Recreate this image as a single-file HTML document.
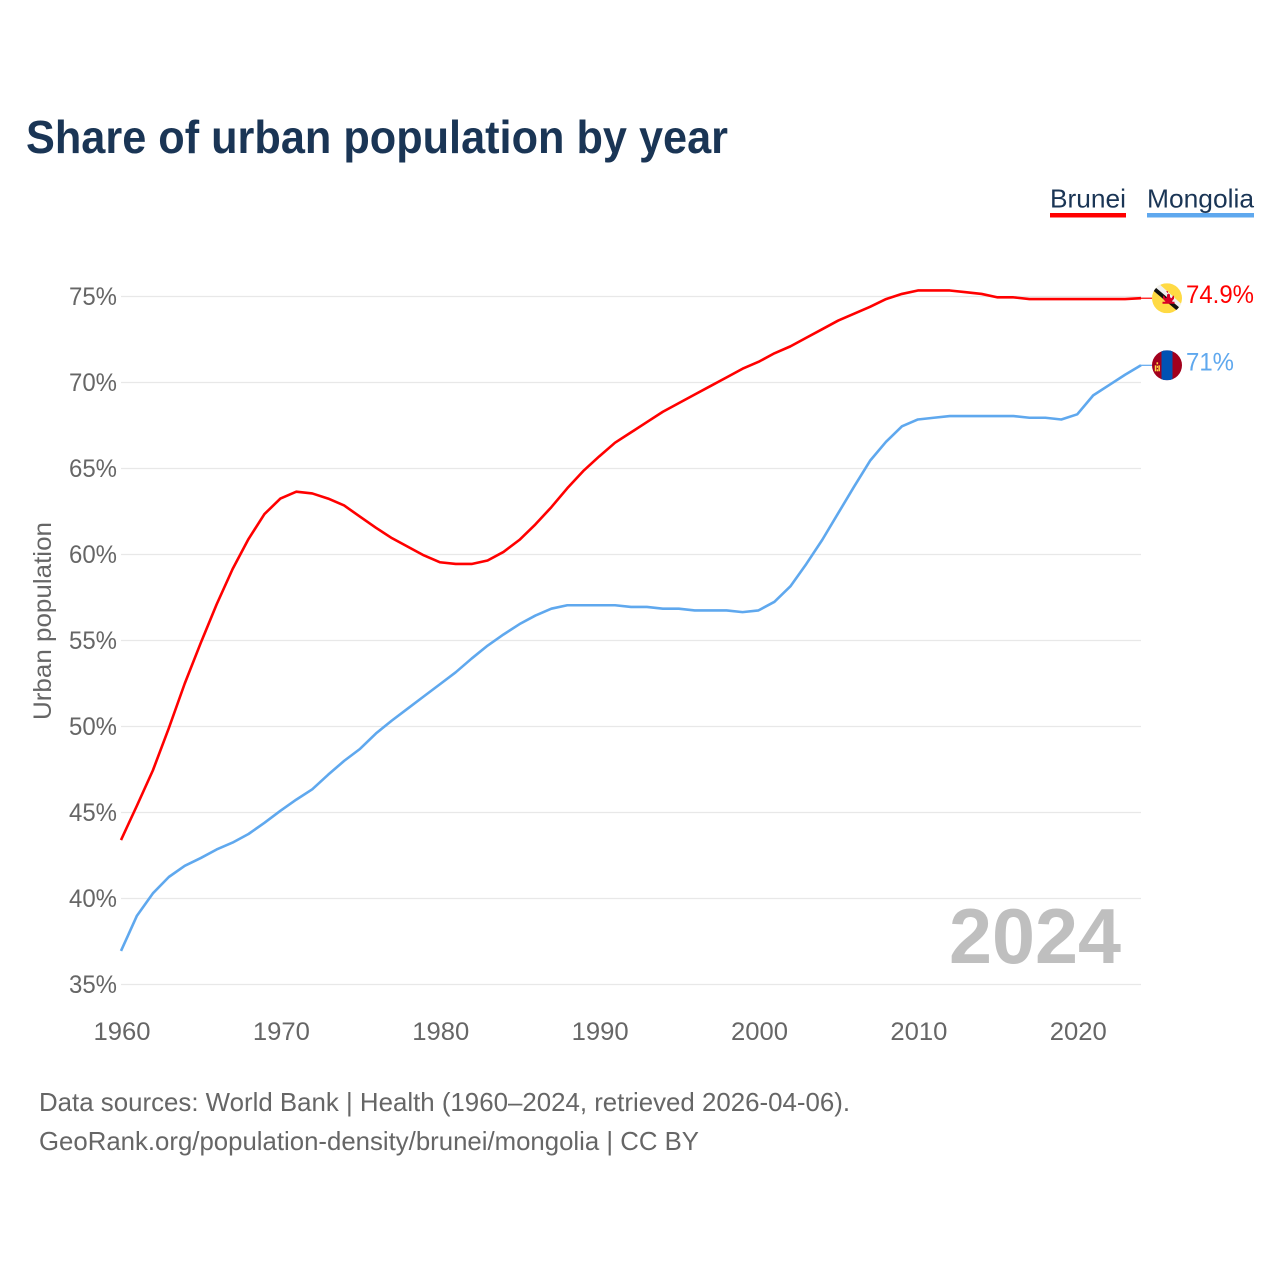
<!DOCTYPE html>
<html lang="en">
<head>
<meta charset="utf-8">
<title>Share of urban population by year</title>
<style>
html,body{margin:0;padding:0;background:#fff;width:1280px;height:1280px;overflow:hidden}
svg{display:block}
text{font-family:"Liberation Sans",sans-serif}
</style>
</head>
<body>
<svg id="chart" xmlns="http://www.w3.org/2000/svg" width="1280" height="1280" viewBox="0 0 1280 1280">
  <rect x="0" y="0" width="1280" height="1280" fill="#fff"/>
  <text x="26" y="153" font-size="46" font-weight="700" fill="#1a3555" textLength="702" lengthAdjust="spacingAndGlyphs">Share of urban population by year</text>

  <g>
    <text x="1050" y="207.5" font-size="26" fill="#1a3555" textLength="76" lengthAdjust="spacingAndGlyphs">Brunei</text>
    <rect x="1050" y="213" width="76" height="4.5" fill="#ff0000"/>
  </g>
  <g>
    <text x="1147" y="207.5" font-size="26" fill="#1a3555" textLength="107" lengthAdjust="spacingAndGlyphs">Mongolia</text>
    <rect x="1147" y="213" width="107" height="4.5" fill="#5fa8ee"/>
  </g>

  <g id="grid"></g>
  <g id="yticks"></g>
  <g id="xticks"></g>

  <text transform="translate(51 720) rotate(-90)" font-size="25" fill="#666" textLength="198" lengthAdjust="spacingAndGlyphs">Urban population</text>
  <text x="949" y="963" font-size="78" font-weight="700" fill="#bfbfbf" textLength="172" lengthAdjust="spacingAndGlyphs">2024</text>

  <path id="line-brunei" fill="none" stroke="#ff0000" stroke-width="2.6" stroke-linejoin="round"/>
  <path id="line-mongolia" fill="none" stroke="#5fa8ee" stroke-width="2.6" stroke-linejoin="round"/>
  <path id="connector-brunei" fill="none" stroke="#ff0000" stroke-width="1.2"/>
  <path id="connector-mongolia" fill="none" stroke="#5fa8ee" stroke-width="1.2"/>

  <defs>
    <clipPath id="clip-flag"><circle cx="0" cy="0" r="15"/></clipPath>
  </defs>

  <g id="flag-brunei" clip-path="url(#clip-flag)">
    <rect x="-15" y="-15" width="30" height="30" fill="#ffda44"/>
    <polygon points="-17,-12 -12,-18 18,9 13,15" fill="#f0f0f0"/>
    <polygon points="-16,-9.5 -13.5,-12.5 15,11.5 12.5,14.5" fill="#111"/>
    <path d="M-1,-7 h2 v3 h2 v3 l1.5,1 l1.5,-2.5 h1 v3 l-2.5,3 h3 v2 h-12 v-2 h3 l-2.5,-3 v-3 h1 l1.5,2.5 l1.5,-1 v-3 h2 z" fill="#d80027"/>
  </g>
  <g id="flag-mongolia" clip-path="url(#clip-flag)">
    <rect x="-15" y="-15" width="30" height="30" fill="#a2001d"/>
    <rect x="-5.5" y="-15" width="11" height="30" fill="#0052b4"/>
    <rect x="-10.5" y="-3" width="1.6" height="2" fill="#ffda44"/>
    <rect x="-12.2" y="0" width="1.5" height="6" fill="#ffda44"/>
    <rect x="-8.6" y="0" width="1.5" height="6" fill="#ffda44"/>
    <rect x="-10.2" y="0.5" width="1.2" height="2" fill="#ffda44"/>
    <rect x="-10.2" y="4" width="1.2" height="2" fill="#ffda44"/>
  </g>

  <text id="value-brunei" x="1186" y="303" font-size="25" fill="#ff0000" textLength="68" lengthAdjust="spacingAndGlyphs">74.9%</text>
  <text id="value-mongolia" x="1186" y="371" font-size="25" fill="#5fa8ee" textLength="48" lengthAdjust="spacingAndGlyphs">71%</text>

  <text x="39" y="1111" font-size="26" fill="#666" textLength="811" lengthAdjust="spacingAndGlyphs">Data sources: World Bank | Health (1960–2024, retrieved 2026-04-06).</text>
  <text x="39" y="1150" font-size="26" fill="#666" textLength="660" lengthAdjust="spacingAndGlyphs">GeoRank.org/population-density/brunei/mongolia | CC BY</text>
</svg>
<script>
const startYear = 1960;
const endYear = 2024;
const yTickValues = [35, 40, 45, 50, 55, 60, 65, 70, 75];
const xTickValues = [1960, 1970, 1980, 1990, 2000, 2010, 2020];
const bruneiValues = [
  43.4, 45.4, 47.45, 49.9, 52.5, 54.85, 57.1, 59.15, 60.9, 62.35,
  63.25, 63.65, 63.55, 63.25, 62.85, 62.2, 61.55, 60.95, 60.45, 59.95,
  59.55, 59.45, 59.45, 59.65, 60.15, 60.85, 61.75, 62.75, 63.85, 64.85,
  65.7, 66.5, 67.1, 67.7, 68.3, 68.8, 69.3, 69.8, 70.3, 70.8,
  71.2, 71.7, 72.1, 72.6, 73.1, 73.6, 74.0, 74.4, 74.85, 75.15,
  75.35, 75.35, 75.35, 75.25, 75.15, 74.95, 74.95, 74.85, 74.85, 74.85,
  74.85, 74.85, 74.85, 74.85, 74.9
];
const mongoliaValues = [
  36.95, 39.0, 40.3, 41.25, 41.9, 42.35, 42.85, 43.25, 43.75, 44.4,
  45.1, 45.75, 46.35, 47.2, 48.0, 48.7, 49.6, 50.35, 51.05, 51.75,
  52.45, 53.15, 53.95, 54.7, 55.35, 55.95, 56.45, 56.85, 57.05, 57.05,
  57.05, 57.05, 56.95, 56.95, 56.85, 56.85, 56.75, 56.75, 56.75, 56.65,
  56.75, 57.25, 58.15, 59.45, 60.85, 62.4, 63.95, 65.45, 66.55, 67.45,
  67.85, 67.95, 68.05, 68.05, 68.05, 68.05, 68.05, 67.95, 67.95, 67.85,
  68.15, 69.25, 69.85, 70.45, 71.0
];

const NS = 'http://www.w3.org/2000/svg';
function xScale(year) {
  return 121 + (year - startYear) * (1141 - 121) / (endYear - startYear);
}
function yScale(value) {
  return 984.5 - (value - 35) * (984.5 - 296.5) / (75 - 35);
}
function linePath(values) {
  return values.map(function (v, i) {
    return (i ? 'L' : 'M') + xScale(startYear + i).toFixed(2) + ' ' + yScale(v).toFixed(2);
  }).join(' ');
}

const grid = document.getElementById('grid');
const yticks = document.getElementById('yticks');
const xticks = document.getElementById('xticks');

yTickValues.forEach(function (v) {
  const line = document.createElementNS(NS, 'line');
  
  
  line.setAttribute('x1', xScale(startYear));
  line.setAttribute('x2', xScale(endYear));
  line.setAttribute('y1', yScale(v));
  line.setAttribute('y2', yScale(v));
  line.setAttribute('stroke', '#e8e8e8');
  line.setAttribute('stroke-width', '1.2');
  grid.appendChild(line);

  const label = document.createElementNS(NS, 'text');
  
  
  label.setAttribute('x', 69);
  label.setAttribute('y', yScale(v) + 8.5);
  label.setAttribute('font-size', '25');
  label.setAttribute('fill', '#666');
  label.setAttribute('textLength', '48');
  label.setAttribute('lengthAdjust', 'spacingAndGlyphs');
  label.textContent = v + '%';
  yticks.appendChild(label);
});

xTickValues.forEach(function (year) {
  const label = document.createElementNS(NS, 'text');
  
  
  label.setAttribute('x', xScale(year) - 27.5);
  label.setAttribute('y', 1040);
  label.setAttribute('font-size', '25');
  label.setAttribute('fill', '#666');
  label.setAttribute('textLength', '57');
  label.setAttribute('lengthAdjust', 'spacingAndGlyphs');
  label.textContent = year;
  xticks.appendChild(label);
});

document.getElementById('line-brunei').setAttribute('d', linePath(bruneiValues));
document.getElementById('line-mongolia').setAttribute('d', linePath(mongoliaValues));

const bruneiLast = bruneiValues[bruneiValues.length - 1];
const mongoliaLast = mongoliaValues[mongoliaValues.length - 1];
const connectorX = xScale(endYear);
document.getElementById('connector-brunei').setAttribute('d', 'M' + connectorX + ' ' + yScale(bruneiLast) + ' H' + (connectorX + 12));
document.getElementById('connector-mongolia').setAttribute('d', 'M' + connectorX + ' ' + yScale(mongoliaLast) + ' H' + (connectorX + 12));
document.getElementById('flag-brunei').setAttribute('transform', 'translate(1167 ' + yScale(bruneiLast) + ')');
document.getElementById('flag-mongolia').setAttribute('transform', 'translate(1167 ' + yScale(mongoliaLast) + ')');

const valueBrunei = document.getElementById('value-brunei');
valueBrunei.setAttribute('y', yScale(bruneiLast) + 5);
valueBrunei.textContent = bruneiLast + '%';
const valueMongolia = document.getElementById('value-mongolia');
valueMongolia.setAttribute('y', yScale(mongoliaLast) + 5);
valueMongolia.textContent = mongoliaLast + '%';
</script>
</body>
</html>
